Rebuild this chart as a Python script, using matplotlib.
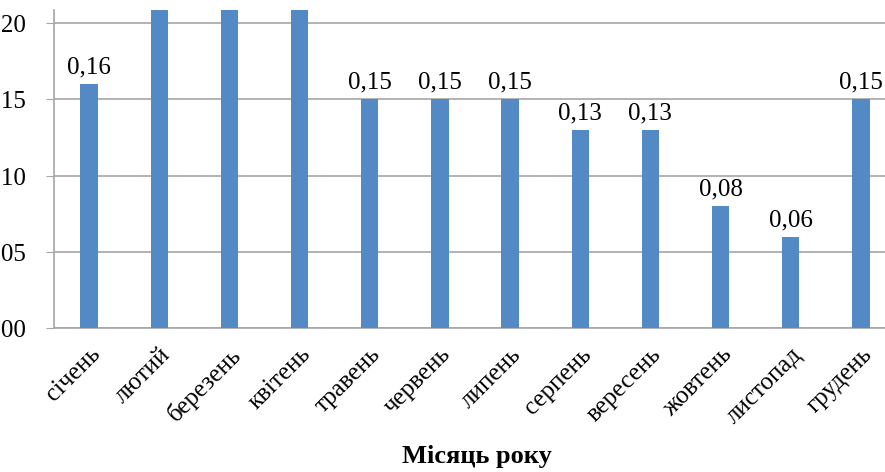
import matplotlib.pyplot as plt
from matplotlib.ticker import FuncFormatter

plt.rcParams['font.family'] = ['Liberation Serif', 'DejaVu Serif']
plt.rcParams['font.size'] = 18

# Monthly values; Feb-Apr run off the top of the plot area
months = ['січень', 'лютий', 'березень', 'квітень', 'травень', 'червень',
          'липень', 'серпень', 'вересень', 'жовтень', 'листопад', 'грудень']
values = [0.16, 0.27, 0.30, 0.25, 0.15, 0.15, 0.15, 0.13, 0.13, 0.08, 0.06, 0.15]
labelled = [True, False, False, False, True, True, True, True, True, True, True, True]
y_ticks = [0.00, 0.05, 0.10, 0.15, 0.20]

bar_color = '#5389C5'
grid_color = '#A6A6A6'

fig = plt.figure(figsize=(8.85, 4.72), dpi=100)
# plot area: left spine at x=54 px, bottom at y=328 px, top at y=10 px
ax = fig.add_axes([54 / 885, (472 - 328) / 472, 842 / 885, 318 / 472])

x = range(len(months))
bars = ax.bar(x, values, width=0.245, color=bar_color, zorder=3)

for b, v, show in zip(bars, values, labelled):
    if show:
        ax.annotate(f'{v:.2f}'.replace('.', ','),
                    (b.get_x() + b.get_width() / 2, v),
                    xytext=(0, 4), textcoords='offset points',
                    ha='center', va='bottom', fontsize=18)

ax.set_xlim(-0.5, len(months) - 0.5)
ax.set_ylim(0, 0.2086)
ax.set_yticks(y_ticks)
ax.yaxis.set_major_formatter(FuncFormatter(lambda v, _: f'{v:.2f}'.replace('.', ',')))
ax.yaxis.grid(True, color=grid_color, linewidth=1.2, zorder=0)

ax.set_xticks(list(x))
ax.set_xticklabels(months, rotation=45, ha='right', va='top',
                   rotation_mode='anchor', fontsize=18)
ax.tick_params(axis='x', length=0, pad=11)
ax.tick_params(axis='y', length=6, color=grid_color, pad=14, labelsize=18)

for side in ['top', 'right']:
    ax.spines[side].set_visible(False)
for side in ['left', 'bottom']:
    ax.spines[side].set_color(grid_color)
    ax.spines[side].set_linewidth(1.2)

fig.text(477 / 885, 1 - 457 / 472, 'Місяць року', ha='center', va='center',
         fontsize=19, fontweight='bold')

fig.savefig('out.png', dpi=100)
